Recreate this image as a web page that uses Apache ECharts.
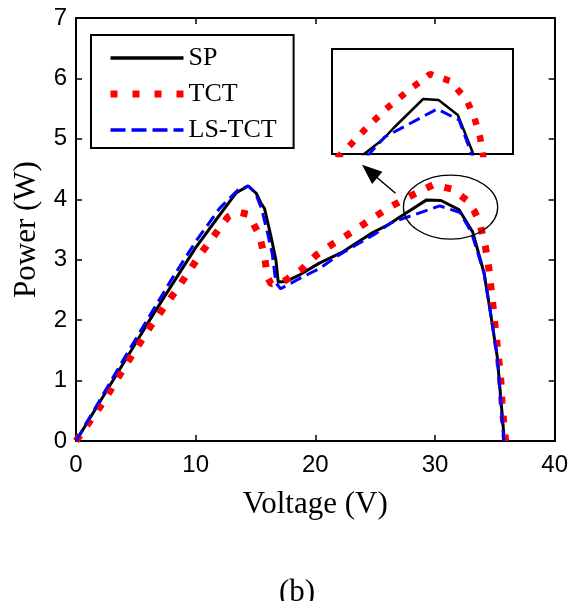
<!DOCTYPE html>
<html>
<head>
<meta charset="utf-8">
<script src="https://cdn.jsdelivr.net/npm/echarts@6/dist/echarts.min.js"></script>
<style>html,body{margin:0;padding:0;background:#fff;}#c{width:571px;height:601px;}</style>
</head>
<body>
<div id="c"></div>
<script>
// ---- data ----
const seriesNames = ['SP', 'TCT', 'LS-TCT'];
const xTicks = [0, 10, 20, 30, 40];
const yTicks = [0, 1, 2, 3, 4, 5, 6, 7];

const spVoltage = [0, 2, 4, 6, 8, 10, 12, 13.4, 14.4, 15.06, 15.47, 15.75, 16.3, 16.7, 16.9, 17.56, 18.7, 20.3, 22.3, 24.8, 26.2, 27, 29.3, 30.5, 32.0, 33.15, 34.1, 34.6, 35.2, 35.8];
const spPower   = [0, 0.65, 1.3, 1.95, 2.58, 3.2, 3.74, 4.11, 4.22, 4.10, 3.93, 3.85, 3.38, 3.0, 2.63, 2.64, 2.75, 2.94, 3.13, 3.45, 3.59, 3.70, 3.99, 3.98, 3.83, 3.46, 2.78, 2.17, 1.40, 0];

const tctVoltage = [0, 2.3, 4.2, 6.2, 8.4, 10.5, 12.7, 13.5, 14.4, 15.3, 15.75, 16.0, 16.3, 17.2, 18.8, 20.1, 21.6, 23.25, 24.8, 26.4, 28.1, 29.85, 31.4, 32.7, 33.3, 33.75, 34.2, 34.5, 34.7, 34.9, 35.1, 35.3, 35.5, 35.6, 35.75, 35.9];
const tctPower   = [0, 0.65, 1.27, 1.89, 2.5, 3.12, 3.71, 3.79, 3.75, 3.42, 3.06, 2.71, 2.60, 2.62, 2.83, 3.08, 3.28, 3.48, 3.69, 3.89, 4.07, 4.24, 4.17, 3.98, 3.80, 3.60, 3.23, 2.86, 2.5, 2.14, 1.75, 1.40, 1.01, 0.65, 0.29, 0];

const lsVoltage = [0, 2, 4, 6, 8, 10, 12, 13.5, 14.4, 15.0, 15.5, 16.0, 16.4, 16.7, 17.1, 18.7, 20.3, 22.0, 25.1, 26.3, 30.4, 32.1, 33.05, 34.1, 34.6, 35.2, 35.75];
const lsPower   = [0, 0.68, 1.36, 2.02, 2.68, 3.3, 3.85, 4.15, 4.22, 4.1, 3.85, 3.45, 3.1, 2.62, 2.52, 2.69, 2.85, 3.08, 3.44, 3.61, 3.89, 3.78, 3.45, 2.78, 2.17, 1.40, 0];

// annotation anchors (data units)
const ellipseCenter = [31.3, 3.87];
const ellipseRadius = [3.94, 0.53];
const arrowTail = [26.7, 4.10];
const arrowTip = [23.9, 4.57];

const zip = (a, b) => a.map((v, i) => [v, b[i]]);
const spData = zip(spVoltage, spPower);
const tctData = zip(tctVoltage, tctPower);
const lsData = zip(lsVoltage, lsPower);

const serif = 'Liberation Serif';
const sans = 'Liberation Sans';

const styles = [
  { color: '#000000', width: 3, type: 'solid' },
  { color: '#ff0000', width: 7, type: [7, 12], cap: 'butt' },
  { color: '#0000ff', width: 3, type: [12, 6], cap: 'butt' }
];
const legendStyles = [
  { color: '#000000', width: 3.5, type: 'solid' },
  { color: '#ff0000', width: 7, type: [7, 15], cap: 'butt' },
  { color: '#0000ff', width: 3.5, type: [15, 6], cap: 'butt' }
];
const insetStyles = [
  { color: '#000000', width: 2.5, type: 'solid' },
  { color: '#ff0000', width: 6.5, type: [6.5, 11], cap: 'butt' },
  { color: '#0000ff', width: 3, type: [12, 6], cap: 'butt' }
];
const datasets = [spData, tctData, lsData];

const chart = echarts.init(document.getElementById('c'), null, { renderer: 'canvas' });

const mainSeries = datasets.map((d, i) => ({
  name: seriesNames[i], type: 'line', data: d, xAxisIndex: 0, yAxisIndex: 0,
  symbol: 'none', showSymbol: false, animation: false, z: 2 + i,
  lineStyle: Object.assign({}, styles[i]), itemStyle: { color: styles[i].color }
}));
const insetSeries = datasets.map((d, i) => ({
  name: seriesNames[i], type: 'line', data: d, xAxisIndex: 2, yAxisIndex: 2,
  symbol: 'none', showSymbol: false, animation: false, clip: true, z: 2 + i,
  lineStyle: Object.assign({}, insetStyles[i]), itemStyle: { color: styles[i].color }
}));

function axisLine() { return { show: true, onZero: false, lineStyle: { color: '#000', width: 2 } }; }
function tickIn() { return { show: true, inside: true, length: 6, lineStyle: { color: '#000', width: 1.5 } }; }

const option = {
  animation: false,
  backgroundColor: '#fff',
  title: {
    text: '(b)', left: 292, top: 588, textAlign: 'center', textVerticalAlign: 'middle',
    textStyle: { fontFamily: serif, fontSize: 31, fontWeight: 'normal', color: '#000' }
  },
  grid: [
    { left: 76, right: 15, top: 18, bottom: 160, show: false },
    { left: 332, top: 49, width: 181, height: 105, show: true, borderColor: '#000', borderWidth: 2, backgroundColor: '#fff' }
  ],
  legend: {
    data: seriesNames.map((n, i) => ({ name: n, lineStyle: Object.assign({}, legendStyles[i]), itemStyle: { opacity: 0 } })),
    left: 91, top: 35, orient: 'vertical',
    padding: [10, 17, 5, 16],
    borderColor: '#000', borderWidth: 2, backgroundColor: '#fff',
    itemWidth: 73, itemHeight: 14, itemGap: 10,
    itemStyle: { opacity: 0 },
    textStyle: { fontFamily: serif, fontSize: 26, color: '#000', lineHeight: 26 },
    selectedMode: false
  },
  xAxis: [
    {
      type: 'value', gridIndex: 0, min: xTicks[0], max: xTicks[xTicks.length - 1], interval: 10,
      position: 'bottom',
      name: 'Voltage (V)', nameLocation: 'middle', nameGap: 48,
      nameTextStyle: { fontFamily: serif, fontSize: 31, color: '#000' },
      axisLine: axisLine(), axisTick: tickIn(), splitLine: { show: false },
      axisLabel: { fontFamily: sans, fontSize: 24, color: '#000', margin: 12 }
    },
    {
      type: 'value', gridIndex: 0, min: 0, max: 40, interval: 10, position: 'top',
      axisLine: axisLine(), axisTick: tickIn(), splitLine: { show: false }, axisLabel: { show: false }
    },
    {
      type: 'value', gridIndex: 1, min: 22.2, max: 36.3, show: false, splitLine: { show: false }
    }
  ],
  yAxis: [
    {
      type: 'value', gridIndex: 0, min: yTicks[0], max: yTicks[yTicks.length - 1], interval: 1,
      position: 'left',
      name: 'Power (W)', nameLocation: 'middle', nameGap: 29,
      nameTextStyle: { fontFamily: serif, fontSize: 31, color: '#000' },
      axisLine: axisLine(), axisTick: tickIn(), splitLine: { show: false },
      axisLabel: { fontFamily: sans, fontSize: 24, color: '#000', margin: 9 }
    },
    {
      type: 'value', gridIndex: 0, min: 0, max: 7, interval: 1, position: 'right',
      axisLine: axisLine(), axisTick: tickIn(), splitLine: { show: false }, axisLabel: { show: false }
    },
    {
      type: 'value', gridIndex: 1, min: 3.44, max: 4.49, show: false, splitLine: { show: false }
    }
  ],
  series: mainSeries.concat(insetSeries)
};
chart.setOption(option);

// annotations positioned from data coordinates
const finder = { xAxisIndex: 0, yAxisIndex: 0 };
const c = chart.convertToPixel(finder, ellipseCenter);
const e = chart.convertToPixel(finder, [ellipseCenter[0] + ellipseRadius[0], ellipseCenter[1] + ellipseRadius[1]]);
const tail = chart.convertToPixel(finder, arrowTail);
const tip = chart.convertToPixel(finder, arrowTip);
const dx = tip[0] - tail[0], dy = tip[1] - tail[1];
const len = Math.sqrt(dx * dx + dy * dy);
const ux = dx / len, uy = dy / len;
const headLen = 20, headHalf = 8;
const base = [tip[0] - ux * headLen, tip[1] - uy * headLen];
const p1 = [base[0] - uy * headHalf, base[1] + ux * headHalf];
const p2 = [base[0] + uy * headHalf, base[1] - ux * headHalf];

chart.setOption({
  graphic: [
    { type: 'ellipse', shape: { cx: c[0], cy: c[1], rx: Math.abs(e[0] - c[0]), ry: Math.abs(e[1] - c[1]) },
      style: { fill: null, stroke: '#000', lineWidth: 1.3 }, z: 10 },
    { type: 'line', shape: { x1: tail[0], y1: tail[1], x2: base[0] + ux * 2, y2: base[1] + uy * 2 },
      style: { stroke: '#000', lineWidth: 1.5 }, z: 10 },
    { type: 'polygon', shape: { points: [tip, p1, p2] }, style: { fill: '#000' }, z: 10 }
  ]
});
</script>
</body>
</html>
